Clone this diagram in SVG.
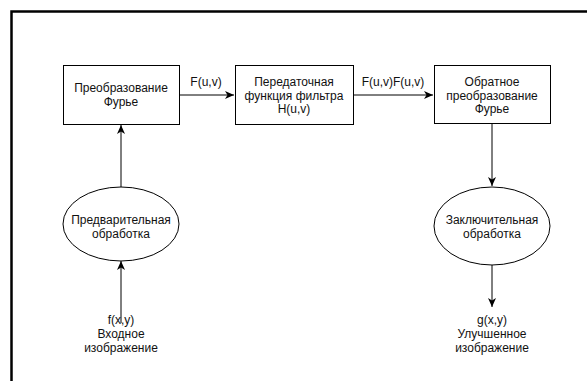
<svg xmlns="http://www.w3.org/2000/svg" width="587" height="381" viewBox="0 0 587 381">
<defs>
<style>
.n{fill:#fff;stroke:#000;stroke-width:1}
.t{font-family:"Liberation Sans",Arial,sans-serif;font-size:12px;fill:#111;text-anchor:middle}
.c{fill:none;stroke:#000;stroke-width:1}
</style>
<marker id="ah" viewBox="0 0 10 8" refX="9" refY="4" markerWidth="10" markerHeight="8" markerUnits="userSpaceOnUse" orient="auto">
<path d="M0,0 L9,4 L0,8 L2.5,4 Z" fill="#000"/>
</marker>
</defs>
<rect width="587" height="381" fill="#fff"/>
<path d="M11.5,381 V11.5 H587" fill="none" stroke="#000" stroke-width="2.5"/>
<g id="connectors">
<path class="c" d="M179,95 H234" marker-end="url(#ah)"/>
<path class="c" d="M353,95 H433" marker-end="url(#ah)"/>
<path class="c" d="M492,124 V186" marker-end="url(#ah)"/>
<path class="c" d="M492,265 V307" marker-end="url(#ah)"/>
<path class="c" d="M121,187 V125" marker-end="url(#ah)"/>
<path class="c" d="M121,323 V261" marker-end="url(#ah)"/>
<text class="t" x="206" y="86">F(u,v)</text>
<text class="t" x="393" y="86">F(u,v)F(u,v)</text>
</g>
<g id="fourier">
<rect class="n" x="63.5" y="65.5" width="116" height="59"/>
<text class="t" x="121" y="92">Преобразование</text>
<text class="t" x="121" y="106">Фурье</text>
</g>
<g id="filter">
<rect class="n" x="235.5" y="65.5" width="118" height="59"/>
<text class="t" x="294" y="86">Передаточная</text>
<text class="t" x="294" y="99.5">функция фильтра</text>
<text class="t" x="294" y="113">H(u,v)</text>
</g>
<g id="inverse">
<rect class="n" x="434.5" y="65.5" width="116" height="58"/>
<text class="t" x="492" y="86">Обратное</text>
<text class="t" x="492" y="99.5">преобразование</text>
<text class="t" x="492" y="113">Фурье</text>
</g>
<g id="pre">
<ellipse class="n" cx="121" cy="224" rx="58" ry="37"/>
<text class="t" x="121" y="224">Предварительная</text>
<text class="t" x="121" y="238">обработка</text>
</g>
<g id="post">
<ellipse class="n" cx="492" cy="226" rx="58" ry="39"/>
<text class="t" x="492" y="224">Заключительная</text>
<text class="t" x="492" y="238">обработка</text>
</g>
<g id="input">
<text class="t" x="121" y="324">f(x,y)</text>
<text class="t" x="121" y="338">Входное</text>
<text class="t" x="121" y="352">изображение</text>
</g>
<g id="output">
<text class="t" x="492" y="324">g(x,y)</text>
<text class="t" x="492" y="338">Улучшенное</text>
<text class="t" x="492" y="352">изображение</text>
</g>
</svg>
